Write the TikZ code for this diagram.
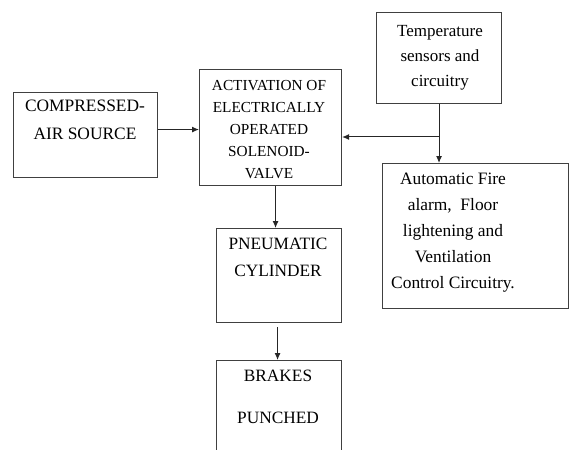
\documentclass[tikz,border=0pt]{standalone}
\usepackage{fontspec}
\setmainfont{Liberation Serif}
\usetikzlibrary{arrows.meta}
\tikzset{
  blk/.style={draw=black!75, line width=1.1pt, inner sep=0pt, anchor=north west},
  txt/.style={anchor=north, align=center, inner sep=0pt, text=black},
  arr/.style={draw=black!85, line width=1pt, -{Latex[length=7pt,width=6pt]}}
}
\begin{document}
\begin{tikzpicture}[x=1pt,y=-1pt]
    \useasboundingbox (0,0) rectangle (569,449);
    \clip (0,0) rectangle (569,449);
    \node[blk, minimum width=144pt, minimum height=85pt] (comp) at (13,92) {};
    \node[blk, minimum width=142pt, minimum height=116pt] (act) at (199,69) {};
    \node[blk, minimum width=125pt, minimum height=91pt] (temp) at (376,12) {};
    \node[blk, minimum width=186pt, minimum height=145pt] (auto) at (382,163) {};
    \node[blk, minimum width=125pt, minimum height=94pt] (pneu) at (216,228) {};
    \node[blk, minimum width=125pt, minimum height=110pt] (brk) at (216,360) {};
    \node[txt, font=\fontsize{17.4}{27.5}\selectfont] (comp-t) at (85,100) {COMPRESSED-\\AIR SOURCE};
    \node[txt, font=\fontsize{15.3}{22}\selectfont] (act-t) at (269,80) {ACTIVATION OF\\ELECTRICALLY\\OPERATED\\SOLENOID-\\VALVE};
    \node[txt, font=\fontsize{17}{25}\selectfont] (temp-t) at (440,25) {Temperature\\sensors and\\circuitry};
    \node[txt, font=\fontsize{17.4}{26}\selectfont] (auto-t) at (453,173) {Automatic Fire\\alarm,~ Floor\\lightening and\\Ventilation\\Control Circuitry.};
    \node[txt, font=\fontsize{17.3}{27}\selectfont] (pneu-t) at (278,238) {PNEUMATIC\\CYLINDER};
    \node[txt, font=\fontsize{17.3}{42}\selectfont] (brk-t) at (278,370) {BRAKES\\PUNCHED};
    \coordinate (tap) at (439,137);
    \draw[arr] ([yshift=5.5pt]comp.east) -- ([yshift=5.5pt]comp.east -| act.west);
    \draw[arr] ([xshift=-3.5pt]pneu.north |- act.south) -- ([xshift=-3.5pt]pneu.north);
    \draw[arr] ([xshift=-1.5pt,yshift=-4pt]pneu.south) -- ([xshift=-1.5pt]brk.north);
    \draw[arr] (tap |- temp.south) -- (tap |- auto.north);
    \draw[arr] (tap) -- (tap -| act.east);
\end{tikzpicture}
\end{document}
